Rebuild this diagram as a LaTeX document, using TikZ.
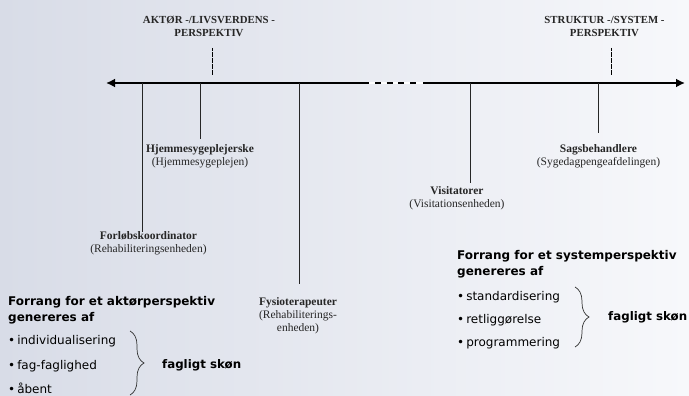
\documentclass[tikz,border=0pt]{standalone}
\usepackage{fontspec}
\setmainfont{Liberation Serif}
\newfontfamily\versans{DejaVu Sans}
\usetikzlibrary{arrows.meta,positioning,decorations.pathreplacing}
\definecolor{bgleft}{RGB}{216,220,231}
\definecolor{bgright}{RGB}{247,248,251}

\begin{document}
\begin{tikzpicture}[x=1pt,y=-1pt,
    role/.style={align=center,
        font=\fontsize{11.5}{13}\selectfont,
        text=black!85,
        inner sep=0pt},
    head/.style={align=center,
        font=\bfseries\fontsize{10.8}{13}\selectfont,
        text=black!85,
        inner sep=0pt},
    axis/.style={line width=2.4pt},
    tick/.style={line width=0.8pt, black!85},
    dotline/.style={line width=0.5pt, dash pattern=on 0.5pt off 0.7pt},
    lead/.style={font=\versans\bfseries\fontsize{12}{16}\selectfont,
        align=left, anchor=west, inner sep=0pt},
    item/.style={font=\versans\fontsize{12}{13}\selectfont,
        anchor=west, inner sep=0pt},
    skon/.style={font=\versans\bfseries\fontsize{11.8}{13}\selectfont,
        anchor=west, inner sep=0pt},
    curly/.style={decorate, decoration={brace, amplitude=14pt},
        line width=0.7pt, black!80},
  ]

    % background
    \shade[left color=bgleft, right color=bgright] (0,0) rectangle (689,396);

    % the axis between the two perspectives
    \coordinate (left end) at (106,83);
    \coordinate (right end) at (685,83);
    \coordinate (gap start) at (369,83);
    \coordinate (gap end) at (423,83);
    \draw[axis, -{Latex[length=9pt,width=9pt]}] (gap start) -- (left end);
    \draw[axis, -{Latex[length=9pt,width=9pt]}] (gap end) -- (right end);
    \draw[axis, white] (gap start) -- (gap end);
    \draw[axis, dash pattern=on 6pt off 5.7pt]
        ([xshift=6pt]gap start) -- ([xshift=-6pt]gap end);

    % perspective headings
    \node [head] (aktor) at (209,26.5) {AKTØR -/LIVSVERDENS -\\PERSPEKTIV};
    \node [head] (struktur) at (604.5,26.5) {STRUKTUR -/SYSTEM -\\PERSPEKTIV};
    \coordinate (aktor dot) at (212,48);
    \coordinate (struktur dot) at (611,48);
    \draw[dotline] (aktor dot) -- ([yshift=8pt]aktor dot |- left end);
    \draw[dotline] (struktur dot) -- ([yshift=8pt]struktur dot |- left end);

    % roles along the axis
    \node [role] (forlob) at (148.5,243) {\textbf{Forløbskoordinator}\\(Rehabiliteringsenheden)};
    \node [role] (hjem) at (200,156.5) {\textbf{Hjemmesygeplejerske}\\(Hjemmesygeplejen)};
    \node [role] (fysio) at (298,315.5) {\textbf{Fysioterapeuter}\\(Rehabiliterings-\\enheden)};
    \node [role] (visit) at (457,198.5) {\textbf{Visitatorer}\\(Visitationsenheden)};
    \node [role] (sags) at (598.5,156.5) {\textbf{Sagsbehandlere}\\(Sygedagpengeafdelingen)};

    \coordinate (forlob end) at (142,232);
    \coordinate (hjem end) at (200,139);
    \coordinate (fysio end) at (299,284);
    \coordinate (visit end) at (470,183);
    \coordinate (sags end) at (598,133);
    \foreach \r in {forlob,hjem,fysio,visit,sags}
        \draw[tick] (\r\space end |- left end) -- (\r\space end);

    % actor side
    \node [lead] (aktor lead) at (8,310) {Forrang for et aktørperspektiv\\genereres af};
    \node [item] (individ) at (8,341) {•\,individualisering};
    \node [item] (fag) at (8,366) {•\,fag-faglighed};
    \node [item] (aabent) at (8,388) {•\,åbent};
    \coordinate (aktor brace top) at (130,331);
    \coordinate (aktor brace bottom) at (130,395);
    \draw[curly] (aktor brace top) -- (aktor brace bottom);
    \node [skon] (aktor skon) at (162,365) {fagligt skøn};

    % system side
    \node [lead] (system lead) at (457,264) {Forrang for et systemperspektiv\\genereres af};
    \node [item] (standard) at (457,297) {•\,standardisering};
    \node [item] (retlig) at (457,320) {•\,retliggørelse};
    \node [item] (program) at (457,343) {•\,programmering};
    \coordinate (system brace top) at (575,287);
    \coordinate (system brace bottom) at (575,347);
    \draw[curly] (system brace top) -- (system brace bottom);
    \node [skon] (system skon) at (608,317) {fagligt skøn};
\end{tikzpicture}
\end{document}
